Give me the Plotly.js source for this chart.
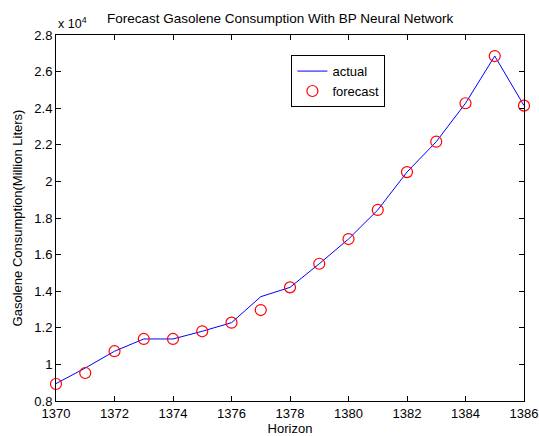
<!DOCTYPE html>
<html>
<head>
<meta charset="utf-8">
<script src="https://cdn.plot.ly/plotly-3.0.1.min.js"></script>
<style>html,body{margin:0;padding:0;background:#fff;}#chart{width:539px;height:436px;}</style>
</head>
<body>
<div id="chart"></div>
<script>
const years = [1370,1371,1372,1373,1374,1375,1376,1377,1378,1379,1380,1381,1382,1383,1384,1385,1386];
const actual = [8950,9800,10720,11390,11390,11810,12280,13700,14210,15500,16850,18440,20510,22170,24270,26850,24140];
const forecast = [8930,9530,10720,11390,11390,11810,12280,12970,14210,15500,16850,18440,20510,22170,24270,26850,24140];
const yTickVals = [8000,10000,12000,14000,16000,18000,20000,22000,24000,26000,28000];
const yTickText = ['0.8','1','1.2','1.4','1.6','1.8','2','2.2','2.4','2.6','2.8'];
const xTickVals = [1370,1372,1374,1376,1378,1380,1382,1384,1386];

const font = {family: 'Liberation Sans, Arial, sans-serif', size: 13, color: '#000'};

const traces = [
  {x: years, y: actual, type: 'scatter', mode: 'lines', name: 'actual',
   line: {color: '#0000ff', width: 1}},
  {x: years, y: forecast, type: 'scatter', mode: 'markers', name: 'forecast',
   marker: {symbol: 'circle-open', color: '#ff0000', size: 11, line: {width: 1.2, color: '#ff0000'}},
   cliponaxis: false}
];

const layout = {
  width: 539, height: 436,
  margin: {l: 56, r: 15, t: 35, b: 35},
  paper_bgcolor: '#fff', plot_bgcolor: '#fff',
  font: font,
  showlegend: true,
  title: {text: 'Forecast Gasolene Consumption With BP Neural Network',
          font: {family: font.family, size: 13.5, color: '#000'},
          x: 0.479, xref: 'paper', y: 0.957, yref: 'container', xanchor: 'center', yanchor: 'middle'},
  xaxis: {range: [1370, 1386], tickvals: xTickVals, ticks: 'inside', ticklen: 5, tickcolor: '#000',
          showline: true, linecolor: '#000', linewidth: 1, mirror: 'allticks', showgrid: false, zeroline: false,
          tickfont: font,
          title: {text: 'Horizon', font: font, standoff: 5}},
  yaxis: {range: [8000, 28000], tickvals: yTickVals, ticktext: yTickText, ticks: 'inside', ticklen: 5, tickcolor: '#000',
          showline: true, linecolor: '#000', linewidth: 1, mirror: 'allticks', showgrid: false, zeroline: false,
          tickfont: font,
          title: {text: 'Gasolene Consumption(Million Liters)', font: font, standoff: 8}},
  legend: {x: 0.503, y: 0.945, xanchor: 'left', yanchor: 'top', bordercolor: '#000', borderwidth: 1,
           bgcolor: '#fff', font: font, tracegroupgap: 0, itemwidth: 30,
           entrywidthmode: 'pixels', entrywidth: 70},
  annotations: [
    {text: 'x 10<sup>4</sup>', xref: 'paper', yref: 'paper', x: 0, y: 1.005, xanchor: 'left', yanchor: 'bottom',
     showarrow: false, font: {family: font.family, size: 12.5, color: '#000'}}
  ]
};

Plotly.newPlot('chart', traces, layout, {displayModeBar: false, staticPlot: true});
</script>
</body>
</html>
